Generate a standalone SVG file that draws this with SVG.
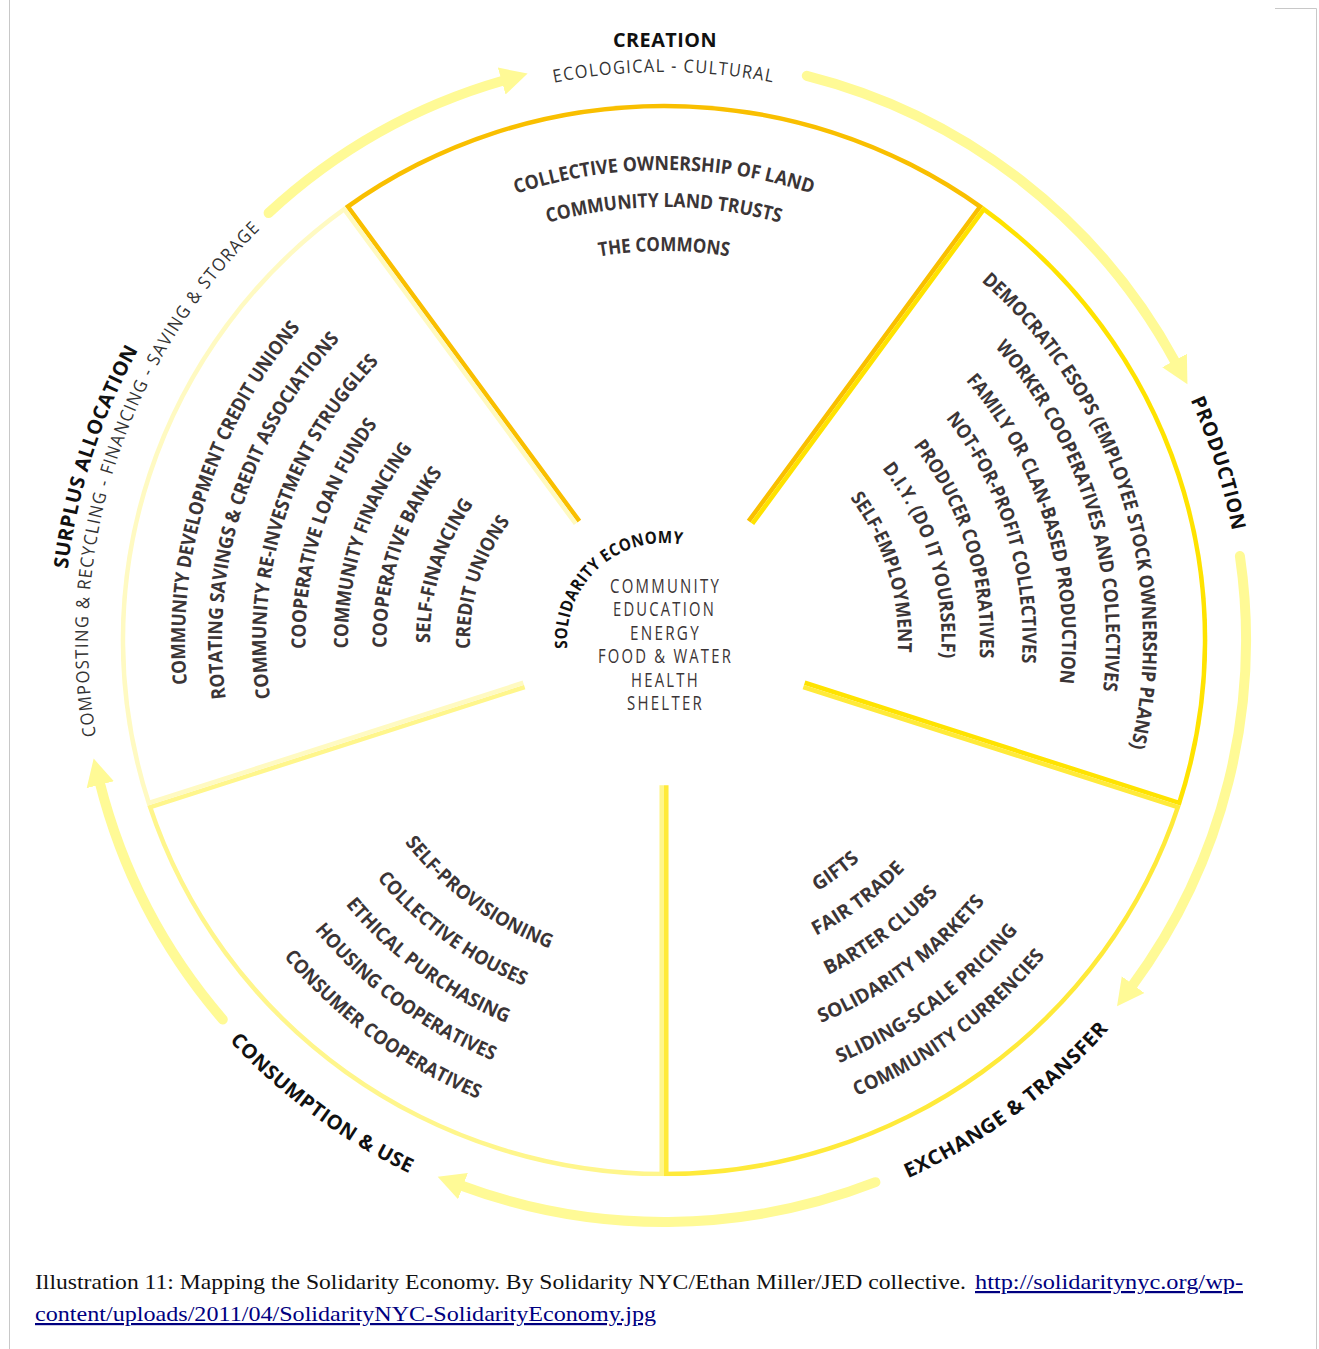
<svg xmlns="http://www.w3.org/2000/svg" width="1319" height="1349" viewBox="0 0 1319 1349">
<style>
  text { font-family: "Open Sans", "Noto Sans", sans-serif; }
  .item { font-weight: 700; font-size: 19.5px; fill: #3b3536; }
  .head { font-weight: 700; font-size: 20px; fill: #111111; letter-spacing: 0.5px; }
  .sub { font-weight: 400; font-size: 18px; fill: #333333; letter-spacing: 1.5px; }
  .hub { font-weight: 400; font-size: 20px; fill: #3b3536; letter-spacing: 3px; }
  .rim { fill: none; stroke-width: 9; }
  .flow { fill: none; stroke: #FFFA96; stroke-width: 10; stroke-linecap: round; marker-end: url(#head); }
  .page { stroke: #c8c8c8; stroke-width: 1; fill: none; }
  .caption { font-family: "Liberation Serif", serif; font-size: 22px; fill: #111111; }
  .link { font-family: "Liberation Serif", serif; font-size: 22px; fill: #000080; text-decoration: underline; }
</style>
<defs>
  <!-- clockwise circles (letters stand outward), starting at 12 o'clock -->
  <path id="cw470" d="M664,170a470,470 0 1 1 0,940a470,470 0 1 1 0,-940"/>
  <path id="cw433" d="M664,207a433,433 0 1 1 0,866a433,433 0 1 1 0,-866"/>
  <path id="cw389" d="M664,251a389,389 0 1 1 0,778a389,389 0 1 1 0,-778"/>
  <path id="cw479" d="M664,161a479,479 0 1 1 0,958a479,479 0 1 1 0,-958"/>
  <path id="cw442" d="M664,198a442,442 0 1 1 0,884a442,442 0 1 1 0,-884"/>
  <path id="cw398" d="M664,242a398,398 0 1 1 0,796a398,398 0 1 1 0,-796"/>
  <path id="cw358" d="M664,281.5a358.5,358.5 0 1 1 0,717a358.5,358.5 0 1 1 0,-717"/>
  <path id="cw316" d="M664,324a316,316 0 1 1 0,632a316,316 0 1 1 0,-632"/>
  <path id="cw277" d="M664,362.5a277.5,277.5 0 1 1 0,555a277.5,277.5 0 1 1 0,-555"/>
  <path id="cw234" d="M664,406a234,234 0 1 1 0,468a234,234 0 1 1 0,-468"/>
  <path id="cw194" d="M664,446a194,194 0 1 1 0,388a194,194 0 1 1 0,-388"/>
  <path id="cw568" d="M664,72a568,568 0 1 1 0,1136a568,568 0 1 1 0,-1136"/>
  <path id="cw578" d="M664,61.5a578.5,578.5 0 1 1 0,1157a578.5,578.5 0 1 1 0,-1157"/>
  <path id="cw600" d="M664,39.5a600.5,600.5 0 1 1 0,1201a600.5,600.5 0 1 1 0,-1201"/>
  <path id="cw576" d="M664,64a576,576 0 1 1 0,1152a576,576 0 1 1 0,-1152"/>
  <path id="cw97" d="M664,543a97,97 0 1 1 0,194a97,97 0 1 1 0,-194"/>
  <!-- counter-clockwise circles (letters stand inward) -->
  <path id="ccw294" d="M664,345.5a294.5,294.5 0 1 0 0,589a294.5,294.5 0 1 0 0,-589"/>
  <path id="ccw332" d="M664,307.5a332.5,332.5 0 1 0 0,665a332.5,332.5 0 1 0 0,-665"/>
  <path id="ccw373" d="M664,267a373,373 0 1 0 0,746a373,373 0 1 0 0,-746"/>
  <path id="ccw414" d="M664,226a414,414 0 1 0 0,828a414,414 0 1 0 0,-828"/>
  <path id="ccw458" d="M664,182a458,458 0 1 0 0,916a458,458 0 1 0 0,-916"/>
  <path id="ccw495" d="M664,145a495,495 0 1 0 0,990a495,495 0 1 0 0,-990"/>
  <path id="ccw329" d="M664,311a329,329 0 1 0 0,658a329,329 0 1 0 0,-658"/>
  <path id="ccw454" d="M664,186a454,454 0 1 0 0,908a454,454 0 1 0 0,-908"/>
  <path id="ccw591" d="M664,49a591,591 0 1 0 0,1182a591,591 0 1 0 0,-1182"/>

  <!-- wedge clips so each rim shows only on its own side of a shared edge -->
  <clipPath id="clipTop"><path d="M664,640L347.2,203.9A539,539 0 0 1 980.8,203.9Z"/></clipPath>
  <clipPath id="clipRight"><path d="M664,640L980.8,203.9A539,539 0 0 1 1176.6,806.6Z"/></clipPath>
  <clipPath id="clipLowRight"><path d="M664,640L1176.6,806.6A539,539 0 0 1 664,1179Z"/></clipPath>
  <clipPath id="clipLowLeft"><path d="M664,640L664,1179A539,539 0 0 1 151.4,806.6Z"/></clipPath>
  <clipPath id="clipLeft"><path d="M664,640L151.4,806.6A539,539 0 0 1 347.2,203.9Z"/></clipPath>

  <marker id="head" markerUnits="userSpaceOnUse" markerWidth="30" markerHeight="32" viewBox="0 -16 30 32" refX="2" refY="0" orient="auto">
    <path d="M0,-14L27,0L0,14Z" fill="#FFFA96"/>
  </marker>
</defs>

<rect width="1319" height="1349" fill="#ffffff"/>

<!-- page frame -->
<path class="page" d="M9.5,0V1349M1275,8.5H1316.5V1349"/>

<!-- cycle arrows -->
<g id="connectors">
  <path class="flow" d="M268.6,213A582,582 0 0 1 503.6,80.5"/>
  <path class="flow" d="M806.8,75.8A582,582 0 0 1 1175.5,362.3"/>
  <path class="flow" d="M1239.9,556A582,582 0 0 1 1131.9,986.2"/>
  <path class="flow" d="M875.4,1182.2A582,582 0 0 1 461.1,1185.5"/>
  <path class="flow" d="M222.8,1019.5A582,582 0 0 1 99.8,782.8"/>
</g>

<!-- CREATION -->
<g id="creation">
  <path class="rim" stroke="#F9BF00" clip-path="url(#clipTop)" transform="translate(664 640) scale(1.008 0.995) translate(-664 -640)" d="M578.2,521.9L347.2,203.9A539,539 0 0 1 980.8,203.9L749.8,521.9"/>
  <text class="head" x="613" y="47" textLength="104" lengthAdjust="spacingAndGlyphs">CREATION</text>
  <text class="sub" transform="rotate(-11.15 664 640)"><textPath href="#cw568" textLength="221" lengthAdjust="spacingAndGlyphs">ECOLOGICAL - CULTURAL</textPath></text>
  <text class="item" transform="rotate(-18.33 664 640)"><textPath href="#cw470" textLength="301" lengthAdjust="spacingAndGlyphs">COLLECTIVE OWNERSHIP OF LAND</textPath></text>
  <text class="item" transform="rotate(-15.55 664 640)"><textPath href="#cw433" textLength="235" lengthAdjust="spacingAndGlyphs">COMMUNITY LAND TRUSTS</textPath></text>
  <text class="item" transform="rotate(-9.57 664 640)"><textPath href="#cw389" textLength="130" lengthAdjust="spacingAndGlyphs">THE COMMONS</textPath></text>
</g>

<!-- PRODUCTION -->
<g id="production">
  <path class="rim" stroke="#FFE300" clip-path="url(#clipRight)" transform="translate(664 640) scale(1.008 0.995) translate(-664 -640)" d="M749.8,521.9L980.8,203.9A539,539 0 0 1 1176.6,806.6L802.9,685.1"/>
  <text class="head" transform="rotate(65.5 664 640)"><textPath href="#cw578" textLength="138" lengthAdjust="spacingAndGlyphs">PRODUCTION</textPath></text>
  <text class="item" transform="rotate(41.5 664 640)"><textPath href="#cw479" textLength="514" lengthAdjust="spacingAndGlyphs">DEMOCRATIC ESOPS (EMPLOYEE STOCK OWNERSHIP PLANS)</textPath></text>
  <text class="item" transform="rotate(48.5 664 640)"><textPath href="#cw442" textLength="371" lengthAdjust="spacingAndGlyphs">WORKER COOPERATIVES AND COLLECTIVES</textPath></text>
  <text class="item" transform="rotate(49.3 664 640)"><textPath href="#cw398" textLength="326" lengthAdjust="spacingAndGlyphs">FAMILY OR CLAN-BASED PRODUCTION</textPath></text>
  <text class="item" transform="rotate(51.8 664 640)"><textPath href="#cw358" textLength="262" lengthAdjust="spacingAndGlyphs">NOT-FOR-PROFIT COLLECTIVES</textPath></text>
  <text class="item" transform="rotate(52.1 664 640)"><textPath href="#cw316" textLength="227" lengthAdjust="spacingAndGlyphs">PRODUCER COOPERATIVES</textPath></text>
  <text class="item" transform="rotate(51.8 664 640)"><textPath href="#cw277" textLength="203" lengthAdjust="spacingAndGlyphs">D.I.Y. (DO IT YOURSELF)</textPath></text>
  <text class="item" transform="rotate(52.6 664 640)"><textPath href="#cw234" textLength="165" lengthAdjust="spacingAndGlyphs">SELF-EMPLOYMENT</textPath></text>
</g>

<!-- EXCHANGE & TRANSFER -->
<g id="exchange">
  <path class="rim" stroke="#FFEA3A" clip-path="url(#clipLowRight)" transform="translate(664 640) scale(1.008 0.995) translate(-664 -640)" d="M802.9,685.1L1176.6,806.6A539,539 0 0 1 664,1179L664,786"/>
  <text class="head" transform="rotate(155.6 664 640)"><textPath href="#ccw591" textLength="252" lengthAdjust="spacingAndGlyphs">EXCHANGE &amp; TRANSFER</textPath></text>
  <text class="item" transform="rotate(148.6 664 640)"><textPath href="#ccw294" textLength="53" lengthAdjust="spacingAndGlyphs">GIFTS</textPath></text>
  <text class="item" transform="rotate(152.8 664 640)"><textPath href="#ccw332" textLength="112" lengthAdjust="spacingAndGlyphs">FAIR TRADE</textPath></text>
  <text class="item" transform="rotate(153.9 664 640)"><textPath href="#ccw373" textLength="138" lengthAdjust="spacingAndGlyphs">BARTER CLUBS</textPath></text>
  <text class="item" transform="rotate(157.7 664 640)"><textPath href="#ccw414" textLength="206" lengthAdjust="spacingAndGlyphs">SOLIDARITY MARKETS</textPath></text>
  <text class="item" transform="rotate(157.5 664 640)"><textPath href="#ccw458" textLength="225" lengthAdjust="spacingAndGlyphs">SLIDING-SCALE PRICING</textPath></text>
  <text class="item" transform="rotate(157.1 664 640)"><textPath href="#ccw495" textLength="237" lengthAdjust="spacingAndGlyphs">COMMUNITY CURRENCIES</textPath></text>
</g>

<!-- CONSUMPTION & USE -->
<g id="consumption">
  <path class="rim" stroke="#FFF68C" clip-path="url(#clipLowLeft)" transform="translate(664 640) scale(1.008 0.995) translate(-664 -640)" d="M664,786L664,1179A539,539 0 0 1 151.4,806.6L525.1,685.1"/>
  <text class="head" transform="rotate(227.3 664 640)"><textPath href="#ccw591" textLength="225" lengthAdjust="spacingAndGlyphs">CONSUMPTION &amp; USE</textPath></text>
  <text class="item" transform="rotate(232 664 640)"><textPath href="#ccw329" textLength="182" lengthAdjust="spacingAndGlyphs">SELF-PROVISIONING</textPath></text>
  <text class="item" transform="rotate(230.3 664 640)"><textPath href="#ccw373" textLength="184" lengthAdjust="spacingAndGlyphs">COLLECTIVE HOUSES</textPath></text>
  <text class="item" transform="rotate(230.3 664 640)"><textPath href="#ccw414" textLength="202" lengthAdjust="spacingAndGlyphs">ETHICAL PURCHASING</textPath></text>
  <text class="item" transform="rotate(230.3 664 640)"><textPath href="#ccw454" textLength="223" lengthAdjust="spacingAndGlyphs">HOUSING COOPERATIVES</textPath></text>
  <text class="item" transform="rotate(230.2 664 640)"><textPath href="#ccw495" textLength="243" lengthAdjust="spacingAndGlyphs">CONSUMER COOPERATIVES</textPath></text>
</g>

<!-- SURPLUS ALLOCATION -->
<g id="surplus">
  <path class="rim" stroke="#FFFAC2" clip-path="url(#clipLeft)" transform="translate(664 640) scale(1.008 0.995) translate(-664 -640)" d="M525.1,685.1L151.4,806.6A539,539 0 0 1 347.2,203.9L578.2,521.9"/>
  <text class="head" transform="rotate(-83.2 664 640)"><textPath href="#cw600" textLength="232" lengthAdjust="spacingAndGlyphs">SURPLUS ALLOCATION</textPath></text>
  <text class="sub" transform="rotate(-99.6 664 640)"><textPath href="#cw576" textLength="555" lengthAdjust="spacingAndGlyphs">COMPOSTING &amp; RECYCLING - FINANCING - SAVING &amp; STORAGE</textPath></text>
  <text class="item" transform="rotate(-95.3 664 640)"><textPath href="#cw479" textLength="384" lengthAdjust="spacingAndGlyphs">COMMUNITY DEVELOPMENT CREDIT UNIONS</textPath></text>
  <text class="item" transform="rotate(-97.6 664 640)"><textPath href="#cw442" textLength="389" lengthAdjust="spacingAndGlyphs">ROTATING SAVINGS &amp; CREDIT ASSOCIATIONS</textPath></text>
  <text class="item" transform="rotate(-98.4 664 640)"><textPath href="#cw398" textLength="366" lengthAdjust="spacingAndGlyphs">COMMUNITY RE-INVESTMENT STRUGGLES</textPath></text>
  <text class="item" transform="rotate(-91.4 664 640)"><textPath href="#cw358" textLength="240" lengthAdjust="spacingAndGlyphs">COOPERATIVE LOAN FUNDS</textPath></text>
  <text class="item" transform="rotate(-91.5 664 640)"><textPath href="#cw316" textLength="214" lengthAdjust="spacingAndGlyphs">COMMUNITY FINANCING</textPath></text>
  <text class="item" transform="rotate(-91.6 664 640)"><textPath href="#cw277" textLength="187" lengthAdjust="spacingAndGlyphs">COOPERATIVE BANKS</textPath></text>
  <text class="item" transform="rotate(-90.7 664 640)"><textPath href="#cw234" textLength="148" lengthAdjust="spacingAndGlyphs">SELF-FINANCING</textPath></text>
  <text class="item" transform="rotate(-92.6 664 640)"><textPath href="#cw194" textLength="136" lengthAdjust="spacingAndGlyphs">CREDIT UNIONS</textPath></text>
</g>

<!-- hub -->
<g id="hub">
  <text class="head" style="font-size:17px" transform="rotate(-95 664 640)"><textPath href="#cw97" textLength="179" lengthAdjust="spacingAndGlyphs">SOLIDARITY ECONOMY</textPath></text>
  <text class="hub" x="610" y="593" textLength="111" lengthAdjust="spacingAndGlyphs">COMMUNITY</text>
  <text class="hub" x="613" y="616" textLength="103" lengthAdjust="spacingAndGlyphs">EDUCATION</text>
  <text class="hub" x="630" y="639.5" textLength="71" lengthAdjust="spacingAndGlyphs">ENERGY</text>
  <text class="hub" x="598" y="663" textLength="135" lengthAdjust="spacingAndGlyphs">FOOD &amp; WATER</text>
  <text class="hub" x="631" y="686.5" textLength="69" lengthAdjust="spacingAndGlyphs">HEALTH</text>
  <text class="hub" x="627" y="710" textLength="77" lengthAdjust="spacingAndGlyphs">SHELTER</text>
</g>

<!-- caption -->
<g id="caption">
  <text class="caption" x="35" y="1289" textLength="931" lengthAdjust="spacingAndGlyphs">Illustration 11: Mapping the Solidarity Economy. By Solidarity NYC/Ethan Miller/JED collective.</text>
  <text class="link" x="975" y="1289" textLength="268" lengthAdjust="spacingAndGlyphs">http://solidaritynyc.org/wp-</text>
  <text class="link" x="35" y="1321" textLength="621" lengthAdjust="spacingAndGlyphs">content/uploads/2011/04/SolidarityNYC-SolidarityEconomy.jpg</text>
</g>
</svg>
